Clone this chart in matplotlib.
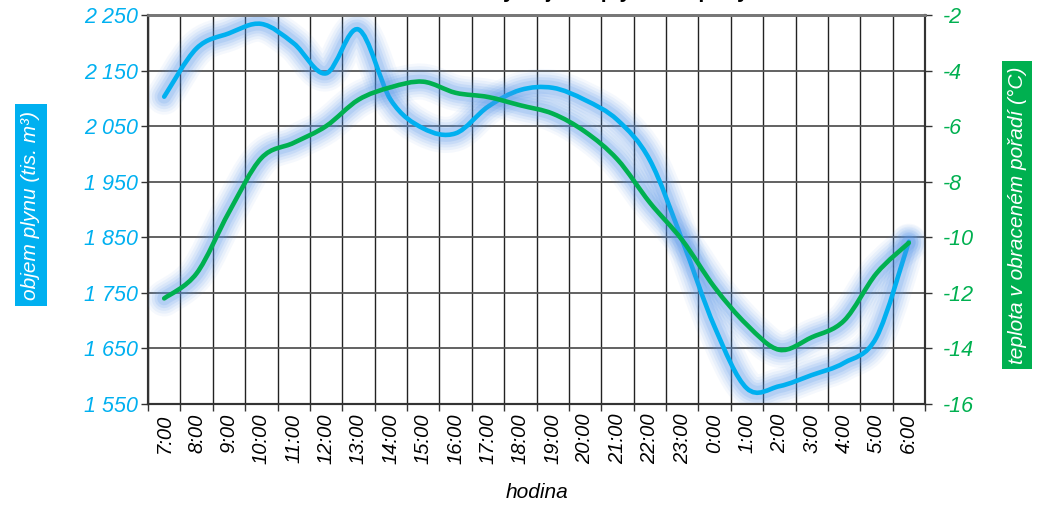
import matplotlib
matplotlib.use("Agg")
import matplotlib.pyplot as plt
import numpy as np
from matplotlib.path import Path
from matplotlib.patches import PathPatch
from matplotlib.ticker import FixedLocator, FuncFormatter

plt.rcParams['font.family'] = ['Liberation Sans', 'DejaVu Sans']
plt.rcParams['axes.unicode_minus'] = False

hours = ["7:00", "8:00", "9:00", "10:00", "11:00", "12:00", "13:00", "14:00",
         "15:00", "16:00", "17:00", "18:00", "19:00", "20:00", "21:00", "22:00",
         "23:00", "0:00", "1:00", "2:00", "3:00", "4:00", "5:00", "6:00"]

# objem plynu (tis. m3)
gas = [2103, 2190, 2217, 2234, 2199, 2145, 2224, 2097,
       2046, 2037, 2085, 2115, 2119, 2097, 2061, 1989,
       1845, 1689, 1578, 1582, 1602, 1624, 1670, 1842]

# teplota (°C)
temp = [-12.2, -11.3, -9.1, -7.15, -6.6, -6.0, -5.05, -4.6,
        -4.4, -4.8, -4.95, -5.25, -5.55, -6.2, -7.2, -8.75,
        -10.1, -11.8, -13.15, -14.05, -13.6, -13.0, -11.3, -10.2]

BLUE = '#00b0f0'
GREEN = '#00b050'
GLOW = '#5596ea'


def smooth_path(xs, ys):
    # Excel-like smoothed line: cubic Bezier segments through the points
    p = np.column_stack([xs, ys]).astype(float)
    n = len(p)
    verts = [p[0]]
    codes = [Path.MOVETO]
    for i in range(n - 1):
        p0 = p[i - 1] if i > 0 else p[i]
        p3 = p[i + 2] if i + 2 < n else p[i + 1]
        c1 = p[i] + (p[i + 1] - p0) / 6
        c2 = p[i + 1] - (p3 - p[i]) / 6
        verts += [c1, c2, p[i + 1]]
        codes += [Path.CURVE4] * 3
    return Path(verts, codes)


def draw_line(ax, xs, ys, color):
    path = smooth_path(xs, ys)
    for lw, a in [(26, 0.06), (22, 0.08), (18, 0.1), (14, 0.13), (10, 0.17)]:
        ax.add_patch(PathPatch(path, fill=False, edgecolor=GLOW, lw=lw, alpha=a,
                               capstyle='round', joinstyle='round', zorder=3))
    ax.add_patch(PathPatch(path, fill=False, edgecolor=color, lw=3.3,
                           capstyle='round', joinstyle='round', zorder=4))


fig = plt.figure(figsize=(10.38, 5.05), dpi=100)
ax = fig.add_axes([148 / 1038, 1 - 404 / 505, 777 / 1038, 389 / 505])
ax2 = ax.twinx()

x = np.arange(len(hours))
ax.set_xlim(-0.5, len(hours) - 0.5)
ax.set_ylim(1550, 2250)
ax2.set_ylim(-16, -2)

ax.set_xticks(x)
ax.set_xticklabels(hours, rotation=90, fontsize=14.5, fontstyle='italic', va='top')
ax.xaxis.set_minor_locator(FixedLocator(np.arange(-0.5, len(hours), 1)))
ax.tick_params(axis='x', which='major', length=0, pad=7)
ax.tick_params(axis='x', which='minor', length=5, width=1, color='#333333', direction='out')
ax.grid(True, axis='x', which='minor', color='#222222', lw=1)

ax.set_yticks(np.arange(1550, 2251, 100))
ax.yaxis.set_major_formatter(FuncFormatter(lambda v, p: f"{int(v):,}".replace(",", " ")))
ax.tick_params(axis='y', length=5, width=1, color='#333333', labelsize=15.5,
               labelcolor=BLUE, pad=2)
for t in ax.get_yticklabels():
    t.set_fontstyle('italic')
ax.grid(True, axis='y', which='major', color='#555555', lw=1.3)

ax2.set_yticks(np.arange(-16, -1, 2))
ax2.tick_params(axis='y', length=5, width=1, color='#333333', labelsize=15.5,
                labelcolor=GREEN, pad=8)
for t in ax2.get_yticklabels():
    t.set_fontstyle('italic')

for a in (ax, ax2):
    a.spines['top'].set_color('#777777')
    a.spines['top'].set_linewidth(2)
    for s in ('left', 'right', 'bottom'):
        a.spines[s].set_color('#333333')
        a.spines[s].set_linewidth(1.5)

draw_line(ax, x, gas, BLUE)
draw_line(ax2, x, temp, GREEN)

fig.text(537 / 1038, 1 - 492 / 505, "hodina", ha='center', va='center',
         fontsize=15, fontstyle='italic')

fig.text(31 / 1038, 1 - 205 / 505, "objem plynu (tis. m³)", rotation=90,
         ha='center', va='center', color='white', fontsize=15, fontstyle='italic',
         bbox=dict(boxstyle='square,pad=0.3', fc=BLUE, ec='none'))
fig.text(1017 / 1038, 1 - 215 / 505, "teplota v obraceném pořadí (°C)", rotation=90,
         ha='center', va='center', color='white', fontsize=15, fontstyle='italic',
         bbox=dict(boxstyle='square,pad=0.25', fc=GREEN, ec='none'))

# title sits above the top edge, only its descenders show (as in the source)
fig.text(0.52, 1 + 2 / 505, "Hodinové hodnoty objemu plynu a teploty", ha='center',
         va='baseline', fontsize=15, fontweight='bold')

fig.savefig("out.png", dpi=100)
